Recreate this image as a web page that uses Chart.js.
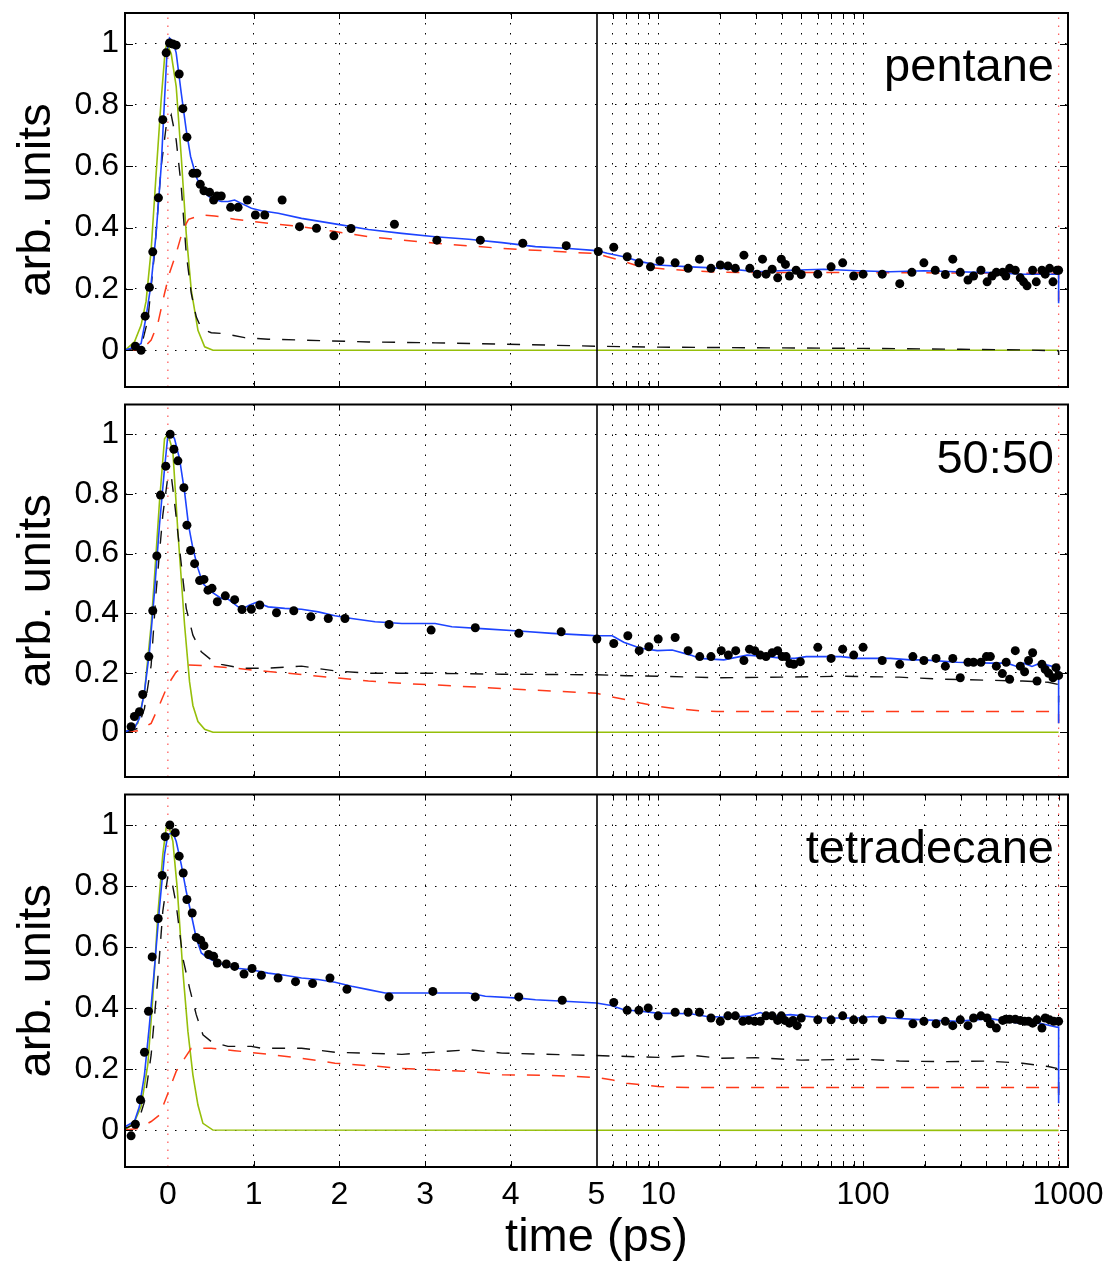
<!DOCTYPE html>
<html>
<head>
<meta charset="utf-8">
<script src="https://cdn.jsdelivr.net/npm/chart.js@4.4.1/dist/chart.umd.min.js"></script>
<style>
  html, body { margin: 0; padding: 0; background: #fff; }
  #wrap { position: relative; width: 1111px; height: 1266px; }
  canvas { position: absolute; left: 0; }
</style>
</head>
<body>
<div id="wrap">
  <canvas id="c1" width="1111" height="400" style="top:0px"></canvas>
  <canvas id="c2" width="1111" height="390" style="top:400px"></canvas>
  <canvas id="c3" width="1111" height="476" style="top:790px"></canvas>
</div>
<script>
// time axis: linear from -0.5 to 5 ps, logarithmic from 5 to 1000 ps
const breakAt = 5;
const tMin = -0.5;
const tMax = 1000;
const yTicks = [0, 0.2, 0.4, 0.6, 0.8, 1];
const tLabels = [0, 1, 2, 3, 4, 5, 10, 100, 1000];
const gridShort = [0, 1, 2, 3, 4, 5, 6, 7, 8, 9, 10, 20, 30, 40, 50, 60, 70, 80, 90, 100, 1000];
const gridLong = [0, 1, 2, 3, 4, 5, 6, 7, 8, 9, 10, 20, 30, 40, 50, 60, 70, 80, 90, 100,
                  200, 300, 400, 500, 600, 700, 800, 900, 1000];
const markerTimes = [0, 900];

// pentane: [time (ps), signal]
const pentaneDots = [[-0.379,0.013],[-0.312,0.0],[-0.265,0.111],[-0.215,0.205],[-0.176,0.321],[-0.110,0.497],[-0.059,0.752],[-0.020,0.970],[0.019,1.002],[0.058,0.999],[0.097,0.995],[0.132,0.901],[0.175,0.788],[0.222,0.695],[0.292,0.577],[0.339,0.577],[0.378,0.541],[0.421,0.520],[0.487,0.515],[0.534,0.490],[0.573,0.503],[0.623,0.503],[0.732,0.466],[0.819,0.466],[0.927,0.490],[1.021,0.441],[1.130,0.441],[1.333,0.490],[1.536,0.403],[1.734,0.398],[1.937,0.373],[2.136,0.397],[2.643,0.411],[3.138,0.359],[3.645,0.359],[4.140,0.349],[4.647,0.341],
  [5.1,0.322],[6.07,0.336],[7.06,0.305],[8.05,0.285],[9.17,0.272],[10.2,0.292],[12.1,0.285],[14.0,0.267],[15.9,0.297],[18.1,0.267],[20.1,0.278],[21.9,0.275],[23.8,0.267],[26.2,0.310],[28.0,0.267],[30.4,0.248],[32.3,0.297],[33.6,0.248],[36.0,0.264],[38.3,0.236],[39.9,0.297],[41.8,0.280],[43.7,0.242],[47.1,0.261],[49.9,0.247],[60.1,0.248],[69.8,0.272],[79.5,0.285],[90.0,0.242],[100,0.248],[124,0.248],[151,0.217],[173,0.254],[198,0.285],[225,0.261],[252,0.247],[274,0.297],[298,0.254],[325,0.229],[346,0.242],[376,0.261],[403,0.223],[426,0.242],[447,0.254],[480,0.254],[497,0.242],[519,0.267],[553,0.261],[585,0.236],[607,0.223],[631,0.210],[672,0.261],[700,0.223],[746,0.261],[774,0.248],[813,0.267],[845,0.223],[884,0.261],[900,0.261]];
const pentaneFit = [[-0.5,0.0],[-0.379,0.011],[-0.312,0.022],[-0.254,0.109],[-0.195,0.218],[-0.137,0.381],[-0.078,0.599],[-0.039,0.817],[-0.008,0.980],[0.019,1.018],[0.058,1.008],[0.097,0.970],[0.156,0.839],[0.214,0.719],[0.265,0.632],[0.331,0.566],[0.409,0.517],[0.506,0.496],[0.623,0.485],[0.702,0.485],[0.779,0.490],[0.857,0.479],[0.974,0.463],[1.091,0.455],[1.287,0.447],[1.559,0.430],[1.949,0.412],[2.339,0.394],[2.729,0.381],[3.118,0.370],[3.509,0.362],[3.898,0.351],[4.288,0.338],[4.678,0.332],[5.0,0.325],[5.64,0.316],[6.79,0.305],[8.2,0.289],[9.9,0.278],[14.4,0.272],[20.9,0.267],[30.4,0.256],[44.2,0.261],[64.3,0.264],[93.5,0.259],[136,0.256],[198,0.259],[288,0.256],[418,0.253],[607,0.248],[884,0.248],[900,0.248],[900,0.153]];
const pentaneFast = [[-0.5,0],[-0.312,0.011],[-0.234,0.098],[-0.156,0.316],[-0.078,0.599],[-0.02,0.730],[0.039,0.768],[0.097,0.686],[0.156,0.534],[0.214,0.316],[0.273,0.185],[0.331,0.109],[0.39,0.071],[0.506,0.057],[0.662,0.054],[0.896,0.041],[1.17,0.036],[1.559,0.033],[2.339,0.027],[3.118,0.024],[3.898,0.020],[5.0,0.013],[10,0.010],[30,0.008],[100,0.006],[300,0.003],[600,0.001],[900,-0.002],[900,-0.016]];
const pentaneSlow = [[-0.5,0],[-0.312,0],[-0.195,0.033],[-0.117,0.087],[-0.039,0.185],[0.019,0.251],[0.097,0.316],[0.175,0.392],[0.241,0.427],[0.39,0.441],[0.545,0.438],[0.779,0.427],[1.17,0.414],[1.559,0.403],[1.949,0.387],[2.339,0.370],[3.118,0.349],[3.898,0.332],[5.0,0.315],[5.64,0.305],[6.79,0.29],[8.2,0.272],[9.9,0.267],[14.4,0.259],[20.9,0.254],[93.5,0.253],[900,0.251],[900,0.16]];
const pentaneIrf = [[-0.5,0],[-0.39,0.027],[-0.312,0.082],[-0.254,0.16],[-0.195,0.327],[-0.137,0.575],[-0.078,0.817],[-0.031,0.98],[-0.01,1.0],[0.039,0.967],[0.097,0.861],[0.156,0.632],[0.214,0.381],[0.273,0.196],[0.351,0.065],[0.429,0.011],[0.526,0],[900,0]];

// 50:50 mixture
const mixDots = [[-0.429,0.019],[-0.39,0.053],[-0.332,0.069],[-0.293,0.127],[-0.222,0.254],[-0.176,0.408],[-0.129,0.592],[-0.086,0.796],[-0.024,0.893],[0.027,1.0],[0.07,0.950],[0.117,0.911],[0.187,0.821],[0.222,0.695],[0.265,0.610],[0.312,0.566],[0.370,0.509],[0.421,0.513],[0.468,0.477],[0.515,0.483],[0.577,0.438],[0.670,0.458],[0.779,0.445],[0.865,0.412],[0.974,0.413],[1.072,0.427],[1.267,0.401],[1.469,0.408],[1.668,0.388],[1.871,0.382],[2.066,0.382],[2.580,0.362],[3.071,0.343],[3.586,0.351],[4.094,0.332],[4.588,0.337],[5.02,0.313],
  [6.07,0.298],[7.11,0.324],[8.08,0.274],[9.0,0.287],[10.0,0.313],[12.1,0.318],[14.0,0.274],[15.95,0.254],[18.1,0.254],[20.3,0.274],[22.0,0.259],[23.9,0.274],[26.2,0.241],[27.9,0.279],[29.6,0.274],[31.5,0.259],[33.6,0.254],[36.0,0.267],[38.3,0.274],[40.3,0.254],[42.1,0.254],[43.9,0.231],[45.9,0.228],[49.4,0.237],[60.1,0.285],[69.8,0.248],[79.5,0.279],[90.0,0.259],[100,0.285],[124,0.241],[151,0.228],[175,0.254],[198,0.241],[227,0.248],[252,0.222],[274,0.248],[298,0.183],[325,0.235],[346,0.235],[376,0.235],[400,0.254],[418,0.254],[447,0.222],[478,0.197],[499,0.235],[519,0.178],[553,0.274],[585,0.222],[614,0.203],[642,0.241],[672,0.267],[706,0.172],[746,0.228],[774,0.211],[804,0.198],[845,0.183],[874,0.217],[900,0.191]];
const mixFit = [[-0.5,0.002],[-0.39,0.013],[-0.332,0.047],[-0.273,0.136],[-0.215,0.270],[-0.156,0.472],[-0.098,0.695],[-0.039,0.885],[0,0.997],[0.027,1.010],[0.078,0.985],[0.136,0.918],[0.195,0.807],[0.241,0.695],[0.292,0.617],[0.351,0.550],[0.409,0.499],[0.506,0.472],[0.623,0.449],[0.702,0.447],[0.819,0.421],[0.896,0.418],[0.955,0.427],[1.033,0.436],[1.17,0.421],[1.364,0.416],[1.559,0.413],[1.754,0.404],[1.949,0.391],[2.144,0.382],[2.417,0.371],[2.729,0.365],[3.118,0.365],[3.313,0.354],[3.703,0.347],[4.093,0.340],[4.483,0.332],[4.873,0.326],[5.0,0.324],[5.97,0.324],[6.79,0.302],[8.2,0.282],[9.9,0.274],[11.7,0.276],[14.4,0.259],[16.0,0.248],[20.9,0.243],[27.2,0.259],[34.3,0.254],[40.8,0.248],[46.5,0.248],[52.8,0.254],[78.0,0.254],[93.5,0.248],[136,0.248],[170,0.243],[198,0.243],[288,0.235],[418,0.232],[503,0.232],[563,0.221],[607,0.232],[667,0.221],[731,0.232],[884,0.217],[900,0.217],[900,0.03]];
const mixFast = [[-0.5,0],[-0.351,0.013],[-0.273,0.080],[-0.195,0.225],[-0.137,0.472],[-0.059,0.729],[0,0.857],[0.039,0.863],[0.086,0.751],[0.136,0.617],[0.214,0.416],[0.292,0.326],[0.39,0.270],[0.506,0.243],[0.623,0.228],[0.857,0.215],[1.17,0.215],[1.559,0.222],[1.949,0.206],[2.339,0.198],[3.118,0.198],[3.898,0.195],[5.0,0.193],[7,0.19],[10,0.188],[20,0.183],[40,0.185],[80,0.188],[150,0.185],[250,0.178],[400,0.175],[600,0.172],[800,0.168],[900,0.16],[900,0.10]];
const mixSlow = [[-0.5,0],[-0.351,0.005],[-0.195,0.030],[-0.098,0.092],[0,0.159],[0.097,0.203],[0.241,0.226],[0.39,0.224],[0.779,0.215],[1.17,0.204],[1.559,0.194],[1.949,0.183],[2.339,0.172],[2.729,0.164],[3.118,0.159],[3.898,0.147],[5.0,0.131],[5.8,0.120],[7.06,0.109],[8.2,0.098],[9.9,0.087],[12.4,0.079],[16,0.072],[19.4,0.070],[900,0.070],[900,0.03]];
const mixIrf = [[-0.5,0],[-0.351,0.03],[-0.273,0.134],[-0.195,0.36],[-0.156,0.52],[-0.098,0.773],[-0.039,0.985],[0,1.0],[0.058,0.945],[0.117,0.672],[0.195,0.36],[0.253,0.169],[0.292,0.09],[0.351,0.036],[0.429,0.010],[0.526,0],[900,0]];

// tetradecane
const tetraDots = [[-0.429,-0.018],[-0.379,0.020],[-0.320,0.100],[-0.273,0.256],[-0.226,0.390],[-0.183,0.568],[-0.113,0.694],[-0.066,0.835],[-0.031,0.962],[0.023,1.0],[0.086,0.975],[0.132,0.898],[0.179,0.843],[0.222,0.756],[0.284,0.712],[0.331,0.632],[0.382,0.623],[0.421,0.605],[0.475,0.576],[0.534,0.570],[0.577,0.548],[0.682,0.545],[0.779,0.537],[0.888,0.512],[0.982,0.530],[1.091,0.508],[1.286,0.499],[1.489,0.487],[1.688,0.481],[1.891,0.499],[2.089,0.462],[2.580,0.437],[3.091,0.455],[3.586,0.437],[4.093,0.437],[4.600,0.426],
  [6.07,0.419],[7.06,0.393],[8.05,0.393],[8.94,0.401],[10.0,0.375],[12.1,0.387],[14.0,0.387],[15.9,0.387],[18.1,0.368],[20.1,0.357],[21.9,0.375],[23.8,0.375],[25.9,0.357],[27.7,0.360],[29.6,0.357],[31.5,0.357],[33.6,0.375],[36.0,0.375],[38.3,0.360],[39.9,0.375],[41.5,0.360],[43.7,0.351],[45.5,0.360],[47.6,0.343],[49.9,0.368],[60.1,0.362],[69.8,0.362],[79.5,0.375],[90.0,0.362],[100,0.362],[124,0.362],[151,0.381],[175,0.349],[198,0.357],[227,0.349],[252,0.357],[274,0.343],[298,0.362],[325,0.343],[346,0.368],[376,0.375],[403,0.368],[418,0.349],[447,0.335],[480,0.360],[497,0.364],[519,0.364],[553,0.364],[585,0.360],[614,0.357],[642,0.357],[672,0.351],[706,0.362],[746,0.335],[774,0.368],[813,0.362],[852,0.357],[900,0.357]];
const tetraFit = [[-0.5,0.012],[-0.39,0.029],[-0.332,0.078],[-0.273,0.182],[-0.215,0.346],[-0.156,0.532],[-0.098,0.729],[-0.039,0.904],[0,0.969],[0.058,0.975],[0.097,0.947],[0.156,0.871],[0.214,0.783],[0.273,0.707],[0.331,0.630],[0.39,0.581],[0.468,0.564],[0.585,0.548],[0.779,0.532],[0.974,0.526],[1.17,0.515],[1.364,0.508],[1.559,0.499],[1.754,0.494],[1.949,0.485],[2.144,0.472],[2.339,0.461],[2.534,0.450],[2.729,0.450],[3.509,0.450],[3.703,0.439],[4.093,0.433],[4.288,0.428],[4.678,0.422],[5.0,0.417],[5.9,0.409],[6.8,0.395],[8.2,0.390],[9.9,0.384],[14.4,0.382],[17.3,0.373],[22.5,0.370],[28.2,0.375],[31.5,0.386],[35.4,0.373],[44.2,0.379],[64.3,0.368],[93.5,0.368],[112,0.373],[136,0.368],[198,0.362],[288,0.357],[418,0.366],[503,0.357],[607,0.349],[731,0.351],[884,0.338],[900,0.338],[900,0.089]];
const tetraFast = [[-0.5,0.007],[-0.351,0.023],[-0.273,0.094],[-0.195,0.247],[-0.117,0.499],[-0.059,0.718],[0,0.833],[0.039,0.827],[0.097,0.740],[0.175,0.564],[0.253,0.466],[0.331,0.379],[0.409,0.313],[0.506,0.291],[0.701,0.275],[0.974,0.275],[1.091,0.269],[1.559,0.269],[1.949,0.256],[2.729,0.249],[3.509,0.264],[3.898,0.253],[5.0,0.245],[10,0.239],[15,0.245],[20,0.236],[30,0.238],[50,0.230],[100,0.233],[150,0.227],[250,0.225],[400,0.227],[600,0.220],[800,0.209],[880,0.203],[900,0.19],[900,0.10]];
const tetraSlow = [[-0.5,0.001],[-0.332,0.007],[-0.195,0.029],[-0.098,0.050],[0,0.121],[0.097,0.193],[0.195,0.236],[0.273,0.269],[0.506,0.269],[0.779,0.261],[1.17,0.249],[1.559,0.236],[1.949,0.220],[2.339,0.212],[2.729,0.203],[3.118,0.198],[3.509,0.193],[3.898,0.182],[4.483,0.180],[5.0,0.173],[6,0.165],[7,0.154],[8.5,0.149],[10,0.144],[12,0.141],[15,0.140],[900,0.140],[900,0.09]];
const tetraIrf = [[-0.5,0],[-0.39,0.028],[-0.312,0.078],[-0.234,0.215],[-0.176,0.434],[-0.117,0.707],[-0.059,0.904],[-0.02,0.991],[0.008,1.0],[0.058,0.947],[0.109,0.794],[0.175,0.521],[0.234,0.324],[0.292,0.182],[0.351,0.083],[0.409,0.023],[0.526,0.001],[900,0]];

const FONT = '"Liberation Sans", Arial, Helvetica, sans-serif';
Chart.defaults.font.family = FONT;
Chart.defaults.color = '#000';
Chart.defaults.animation = false;

// which time grid each canvas uses
const gridByCanvas = {};

// linear below breakAt, log10 above; each part takes half of the width
class SplitScale extends Chart.Scale {
  static id = 'split';
  static defaults = {};
  determineDataLimits() {
    this.min = this.options.min;
    this.max = this.options.max;
  }
  buildTicks() {
    return (gridByCanvas[this.chart.canvas.id] || []).map(v => ({ value: v }));
  }
  getLabelForValue(v) { return String(v); }
  getPixelForValue(v) {
    let d;
    if (v <= breakAt) d = 0.5 * (v - this.min) / (breakAt - this.min);
    else d = 0.5 + 0.5 * Math.log10(v / breakAt) / Math.log10(this.max / breakAt);
    return this.getPixelForDecimal(d);
  }
  getValueForPixel(p) {
    const d = this.getDecimalForPixel(p);
    if (d <= 0.5) return this.min + (breakAt - this.min) * d / 0.5;
    return breakAt * Math.pow(this.max / breakAt, (d - 0.5) / 0.5);
  }
}
Chart.register(SplitScale);

// box, inward ticks, the linear/log break and the sample name
const framePlugin = {
  id: 'frame',
  afterDatasetsDraw(chart, args, opts) {
    const { ctx, chartArea: a, scales: { x, y } } = chart;
    ctx.save();
    ctx.strokeStyle = '#000';
    ctx.lineWidth = 1;
    ctx.beginPath();
    y.ticks.forEach(t => {
      const py = Math.round(y.getPixelForValue(t.value)) + 0.5;
      ctx.moveTo(a.left, py); ctx.lineTo(a.left + 8, py);
      ctx.moveTo(a.right, py); ctx.lineTo(a.right - 8, py);
    });
    x.ticks.forEach(t => {
      if (t.value === 0 || t.value === breakAt || t.value === tMax) return;
      const px = Math.round(x.getPixelForValue(t.value)) + 0.5;
      ctx.moveTo(px, a.top); ctx.lineTo(px, a.top + 6);
      ctx.moveTo(px, a.bottom); ctx.lineTo(px, a.bottom - 6);
    });
    ctx.stroke();
    ctx.lineWidth = 2;
    ctx.strokeRect(a.left, a.top, a.right - a.left, a.bottom - a.top);
    const bx = Math.round(x.getPixelForValue(breakAt));
    ctx.lineWidth = 1.6;
    ctx.beginPath();
    ctx.moveTo(bx, a.top); ctx.lineTo(bx, a.bottom);
    ctx.stroke();
    ctx.fillStyle = '#000';
    ctx.font = '47px ' + FONT;
    ctx.textAlign = 'right';
    ctx.textBaseline = 'alphabetic';
    ctx.fillText(opts.text, a.right - 14, a.top + 68);
    ctx.restore();
  }
};

function toXY(pts) { return pts.map(([x, y]) => ({ x, y })); }

function lineSet(pts, color, width, dash) {
  return { data: toXY(pts), showLine: true, borderColor: color, borderWidth: width,
           borderDash: dash, pointRadius: 0, fill: false, tension: 0 };
}

function makePanel(id, p) {
  gridByCanvas[id] = p.grid;
  const datasets = [
    { data: toXY(p.dots), showLine: false, pointRadius: 4.5, pointBackgroundColor: '#000',
      pointBorderWidth: 0 },
    lineSet(p.fit, '#1d44ff', 1.6, []),
    lineSet(p.fast, '#111', 1.4, [13, 12]),
    lineSet(p.slow, '#ff3a1a', 1.5, [13, 12]),
    lineSet(p.irf, '#96bf0a', 1.6, []),
  ];
  markerTimes.forEach(t => {
    datasets.push(lineSet([[t, p.yMin], [t, p.yMax]], '#ff6060', 1.3, [1.5, 6.5]));
  });

  new Chart(document.getElementById(id), {
    type: 'scatter',
    data: { datasets },
    options: {
      responsive: false,
      layout: { padding: { top: p.padTop, right: 43, bottom: 0, left: 0 } },
      plugins: {
        legend: { display: false },
        tooltip: { enabled: false },
        frame: { text: p.name }
      },
      scales: {
        x: {
          type: 'split',
          position: 'bottom',
          min: tMin,
          max: tMax,
          afterFit: s => { s.height = p.axisH; s.paddingLeft = 0; s.paddingRight = 0; },
          grid: {
            drawTicks: false,
            lineWidth: 1,
            color: c => (c.tick && [0, breakAt, tMax].includes(c.tick.value)) ? 'rgba(0,0,0,0)' : '#000'
          },
          border: { display: false, dash: [1.5, 8.5] },
          ticks: {
            display: p.showT,
            autoSkip: false,
            maxRotation: 0,
            padding: 9,
            font: { size: 32 },
            callback: v => tLabels.includes(v) ? String(v) : ''
          },
          title: {
            display: p.showT,
            text: 'time (ps)',
            font: { size: 47 },
            padding: { top: 0, bottom: 0 }
          }
        },
        y: {
          type: 'linear',
          min: p.yMin,
          max: p.yMax,
          afterBuildTicks: s => { s.ticks = yTicks.map(v => ({ value: v })); },
          afterFit: s => { s.width = 125; s.paddingTop = 0; s.paddingBottom = 0; },
          grid: { drawTicks: false, lineWidth: 1, color: '#000' },
          border: { display: false, dash: [1.5, 8.5] },
          ticks: { padding: 6, font: { size: 32 }, callback: v => String(v) },
          title: {
            display: true,
            text: 'arb. units',
            font: { size: 47 },
            padding: { top: 9, bottom: 0 }
          }
        }
      }
    },
    plugins: [framePlugin]
  });
}

makePanel('c1', { name: 'pentane', dots: pentaneDots, fit: pentaneFit, fast: pentaneFast,
  slow: pentaneSlow, irf: pentaneIrf, yMin: -0.12, yMax: 1.1, padTop: 13, axisH: 13,
  grid: gridShort, showT: false });
makePanel('c2', { name: '50:50', dots: mixDots, fit: mixFit, fast: mixFast,
  slow: mixSlow, irf: mixIrf, yMin: -0.15, yMax: 1.1, padTop: 3, axisH: 13,
  grid: gridShort, showT: false });
makePanel('c3', { name: 'tetradecane', dots: tetraDots, fit: tetraFit, fast: tetraFast,
  slow: tetraSlow, irf: tetraIrf, yMin: -0.12, yMax: 1.1, padTop: 4, axisH: 99,
  grid: gridLong, showT: true });
</script>
</body>
</html>
